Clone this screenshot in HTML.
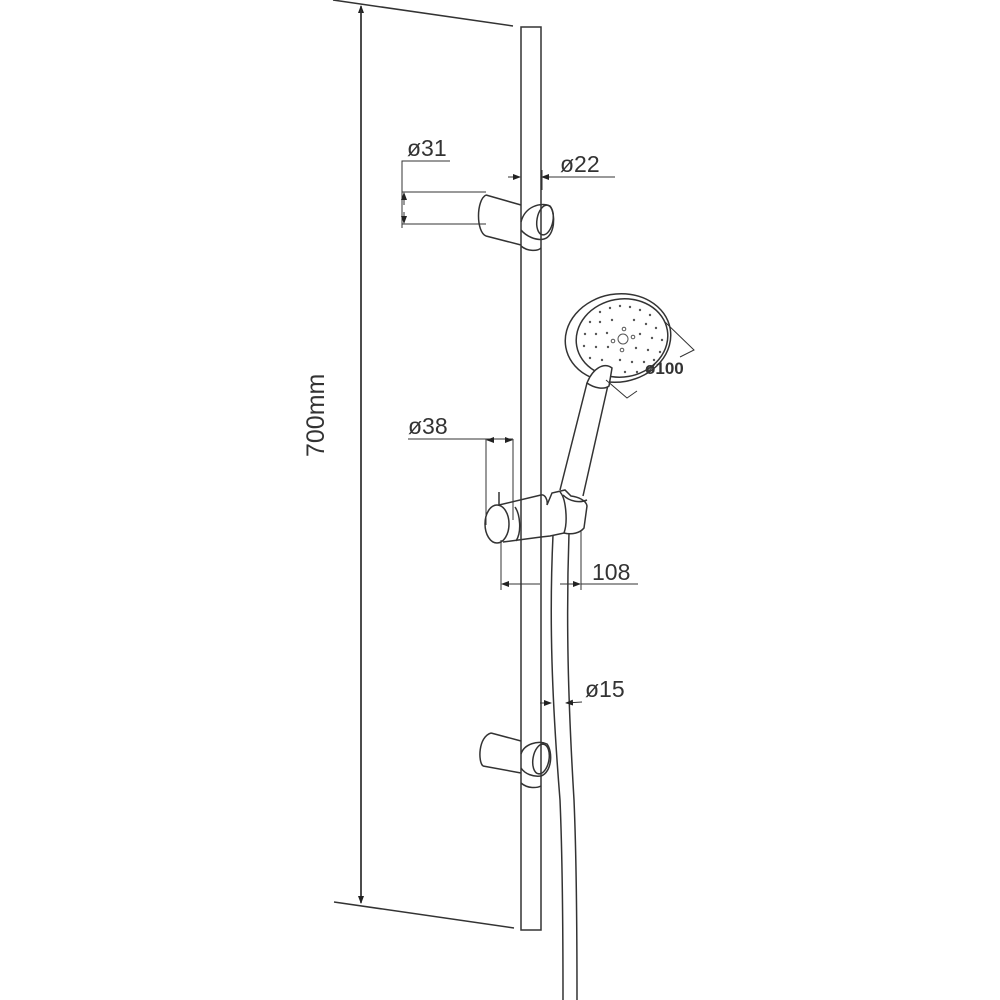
<!DOCTYPE html>
<html><head><style>
html,body{margin:0;padding:0;background:#fff;}
svg{display:block}
text{font-family:"Liberation Sans",sans-serif;fill:#333;}
</style></head><body>
<svg width="1000" height="1000" viewBox="0 0 1000 1000" xmlns="http://www.w3.org/2000/svg">
<defs>
<marker id="ar" markerWidth="8" markerHeight="8" refX="7" refY="4" orient="auto" markerUnits="userSpaceOnUse">
<path d="M0,1 L8,4 L0,7 Z" fill="#222"/></marker>
</defs>
<g fill="none" stroke="#333" stroke-width="1.5">
<line x1="333" y1="0" x2="513" y2="26"/>
<line x1="334" y1="902" x2="514" y2="928"/>
<line x1="361" y1="900" x2="361" y2="6" marker-end="url(#ar)"/>
<line x1="361" y1="10" x2="361" y2="903" marker-end="url(#ar)"/>
<rect x="521" y="27" width="20" height="903" fill="#fff"/>
<path d="M553,535 C549,620 552,700 560,800 C563,870 563,950 563,1000"/>
<path d="M569,533 C566,620 568,700 574,800 C577,870 577,950 577,1000"/>
<path d="M486,195 L521,205 M486,236 L521,245" />
<path d="M486,195 C476,200 476,232 486,236" />
<path d="M521,222 C525,206 541,202 550,206 C556,214 555,236 544,239 C536,241 526,236 521,230"/>
<ellipse cx="545" cy="220" rx="8" ry="15" transform="rotate(10 545 220)"/>
<path d="M521,246 C528,252 538,251 541,248"/>
<path d="M491,733 L521,741 M483,766 L521,773"/>
<path d="M491,733 C478,737 478,762 483,766"/>
<path d="M521,754 C524,744 538,740 547,744 C553,752 552,772 541,776 C533,777 525,774 521,768"/>
<ellipse cx="541" cy="759" rx="8" ry="15" transform="rotate(10 541 759)"/>
<path d="M521,783 C528,789 537,788 541,786"/>
<path d="M587,383 L560,490 M608,385 L583,496"/>
<ellipse cx="618" cy="338" rx="53" ry="44" transform="rotate(-10 618 338)" fill="#fff"/>
<ellipse cx="622" cy="338" rx="46" ry="39" transform="rotate(-10 622 338)"/>
<path d="M587,383 C593,368 604,362 612,368 L609,386 C604,390 594,388 587,383 Z" fill="#fff"/>
<path d="M499,505 L541,495 C545,494 548,500 547,505 L552,493 L565,490 L571,496 C578,497 586,500 587,506 L584,528 C580,533 572,535 564,533 L550,536 L541,537 L503,542"/>
<ellipse cx="497" cy="524" rx="12" ry="19" fill="#fff"/>
<path d="M515,507 C520,514 522,532 516,541"/>
<path d="M560,492 C566,498 568,522 564,533"/>
<path d="M563,495 C570,502 580,503 587,500"/>
<line x1="499" y1="492" x2="499" y2="506"/>
</g>
<g fill="#555">
<circle cx="600" cy="312" r="1.2"/><circle cx="610" cy="308" r="1.2"/><circle cx="620" cy="306" r="1.2"/><circle cx="630" cy="307" r="1.2"/><circle cx="640" cy="310" r="1.2"/><circle cx="650" cy="315" r="1.2"/>
<circle cx="590" cy="322" r="1.2"/><circle cx="600" cy="322" r="1.2"/><circle cx="612" cy="320" r="1.2"/><circle cx="634" cy="320" r="1.2"/><circle cx="646" cy="324" r="1.2"/><circle cx="656" cy="328" r="1.2"/>
<circle cx="585" cy="334" r="1.2"/><circle cx="596" cy="334" r="1.2"/><circle cx="607" cy="333" r="1.2"/><circle cx="640" cy="334" r="1.2"/><circle cx="652" cy="338" r="1.2"/><circle cx="662" cy="340" r="1.2"/>
<circle cx="584" cy="346" r="1.2"/><circle cx="596" cy="347" r="1.2"/><circle cx="608" cy="347" r="1.2"/><circle cx="636" cy="348" r="1.2"/><circle cx="648" cy="350" r="1.2"/><circle cx="660" cy="352" r="1.2"/>
<circle cx="590" cy="358" r="1.2"/><circle cx="602" cy="360" r="1.2"/><circle cx="620" cy="360" r="1.2"/><circle cx="632" cy="362" r="1.2"/><circle cx="644" cy="362" r="1.2"/><circle cx="654" cy="360" r="1.2"/>
<circle cx="625" cy="372" r="1.2"/><circle cx="637" cy="372" r="1.2"/><circle cx="648" cy="370" r="1.2"/>
</g>
<g fill="none" stroke="#555" stroke-width="1">
<circle cx="623" cy="339" r="5"/><circle cx="613" cy="341" r="1.8"/><circle cx="633" cy="337" r="1.8"/><circle cx="624" cy="329" r="1.8"/><circle cx="622" cy="350" r="1.8"/>
</g>
<g fill="none" stroke="#333" stroke-width="1">
<polyline points="450,161 402,161 402,228"/>
<line x1="402" y1="192" x2="486" y2="192"/>
<line x1="402" y1="224" x2="486" y2="224"/>
<line x1="404" y1="205" x2="404" y2="193" marker-end="url(#ar)"/>
<line x1="404" y1="212" x2="404" y2="223" marker-end="url(#ar)"/>
<line x1="508" y1="177" x2="520" y2="177" marker-end="url(#ar)"/>
<line x1="615" y1="177" x2="542" y2="177" marker-end="url(#ar)"/>
<line x1="521" y1="170" x2="521" y2="190"/>
<line x1="542" y1="170" x2="542" y2="190"/>
<line x1="408" y1="439" x2="513" y2="439"/>
<line x1="486" y1="439" x2="486" y2="525"/>
<line x1="513" y1="439" x2="513" y2="520"/>
<line x1="490" y1="440" x2="487" y2="440" marker-end="url(#ar)"/>
<line x1="509" y1="440" x2="512" y2="440" marker-end="url(#ar)"/>
<line x1="501" y1="540" x2="501" y2="590"/>
<line x1="581" y1="530" x2="581" y2="590"/>
<line x1="540" y1="584" x2="502" y2="584" marker-end="url(#ar)"/>
<line x1="560" y1="584" x2="580" y2="584" marker-end="url(#ar)"/>
<line x1="581" y1="584" x2="638" y2="584"/>
<line x1="540" y1="703" x2="551" y2="703" marker-end="url(#ar)"/>
<line x1="582" y1="702" x2="566" y2="703" marker-end="url(#ar)"/>
<polyline points="665,322 694,350 680,357"/>
<polyline points="606,380 627,398 637,391"/>
</g>
<text x="407" y="156" font-size="23">ø31</text>
<text x="560" y="172" font-size="23">ø22</text>
<text x="408" y="434" font-size="23">ø38</text>
<text x="592" y="580" font-size="23">108</text>
<text x="585" y="697" font-size="23">ø15</text>
<text x="645" y="374" font-size="17" font-weight="bold" fill="#111">ø100</text>
<text x="0" y="0" font-size="25" transform="translate(324,457) rotate(-90)">700mm</text>
</svg>
</body></html>
